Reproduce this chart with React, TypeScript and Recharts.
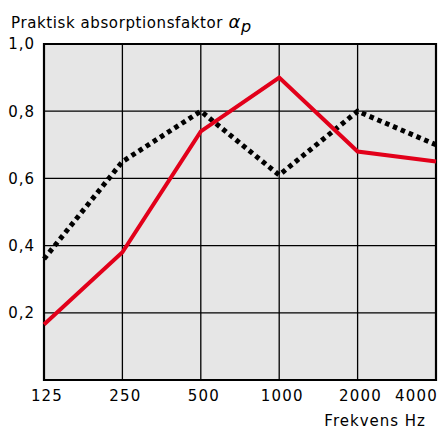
import { LineChart, Line, XAxis, YAxis, CartesianGrid, ReferenceArea } from 'recharts'

const frequencies = ['125', '250', '500', '1000', '2000', '4000']
const redValues = [0.165, 0.38, 0.74, 0.9, 0.68, 0.65]
const dottedValues = [0.36, 0.65, 0.8, 0.61, 0.8, 0.7]
const yTicks = [0, 0.2, 0.4, 0.6, 0.8, 1.0]

const data = frequencies.map((f, i) => ({ f, red: redValues[i], dotted: dottedValues[i] }))

const font = '"DejaVu Sans", Verdana, sans-serif'

const XTick = ({ x, y, payload, index }: any) => {
  const last = index === frequencies.length - 1
  return (
    <text
      x={last ? x + 2 : x + 3}
      y={y}
      dy={19}
      textAnchor={last ? 'end' : 'middle'}
      fill="#000"
      fontSize={15}
      fontFamily={font}
      letterSpacing={1.2}
    >
      {payload.value}
    </text>
  )
}

export default function App() {
  return (
    <div style={{ position: 'absolute', left: 0, top: 0, width: 442, height: 430, background: '#fff', fontFamily: font }}>
      <div style={{ position: 'absolute', left: 11, top: 13, fontSize: 15, lineHeight: '18px', letterSpacing: 0.6, whiteSpace: 'nowrap' }}>
        Praktisk absorptionsfaktor{' '}
        <span style={{ fontStyle: 'italic', fontSize: 18 }}>α</span>
        <sub style={{ fontStyle: 'italic', fontSize: 16, verticalAlign: '-4px' }}>p</sub>
      </div>
      <div style={{ position: 'absolute', right: 16, top: 413, fontSize: 15, lineHeight: '16px', letterSpacing: 1, whiteSpace: 'nowrap' }}>
        Frekvens Hz
      </div>
      <LineChart width={442} height={430} data={data} margin={{ top: 44, right: 6, bottom: 20, left: 0 }}>
        <CartesianGrid fill="#e6e6e6" stroke="#000" strokeWidth={1.3} />
        <XAxis
          dataKey="f"
          height={30}
          axisLine={false}
          tickLine={false}
          tickSize={0}
          tick={<XTick />}
          interval={0}
        />
        <YAxis
          width={44}
          domain={[0, 1]}
          ticks={yTicks}
          axisLine={false}
          tickLine={false}
          tickSize={0}
          tickMargin={9}
          tickFormatter={(v: number) => (v === 0 ? '' : v.toFixed(1).replace('.', ','))}
          tick={{ fill: '#000', fontSize: 15, fontFamily: font, letterSpacing: 1 }}
        />
        <ReferenceArea x1="125" x2="4000" y1={0} y2={1} fill="none" fillOpacity={0} stroke="#000" strokeWidth={2.2} ifOverflow="visible" />
        <Line
          dataKey="dotted"
          stroke="#000"
          strokeWidth={5}
          strokeDasharray="4.5 4"
          dot={false}
          isAnimationActive={false}
        />
        <Line
          dataKey="red"
          stroke="#e2001a"
          strokeWidth={4}
          dot={false}
          isAnimationActive={false}
        />
      </LineChart>
    </div>
  )
}
